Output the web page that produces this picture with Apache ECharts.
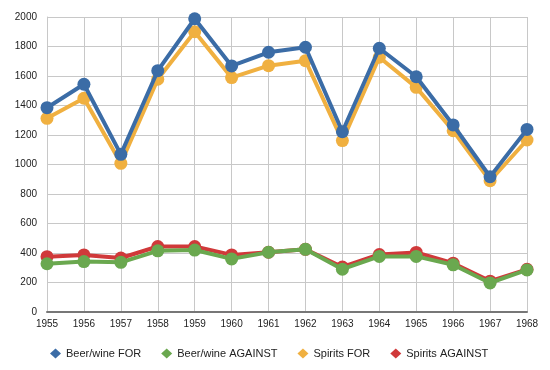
<!DOCTYPE html>
<html><head><meta charset="utf-8">
<script src="https://cdn.jsdelivr.net/npm/echarts@6/dist/echarts.min.js"></script>
<style>html,body{margin:0;padding:0;background:#fff}#c{width:550px;height:370px}</style>
</head><body><div id="c"></div>
<script>
const years = ['1955','1956','1957','1958','1959','1960','1961','1962','1963','1964','1965','1966','1967','1968'];
const beerFor = [1385,1544,1069,1636,1988,1668,1761,1795,1222,1788,1595,1268,917,1238];
const beerAgainst = [327,342,337,415,420,360,405,425,290,377,377,320,197,285];
const spiritsFor = [1313,1449,1008,1578,1900,1589,1670,1704,1162,1727,1523,1229,890,1166];
const spiritsAgainst = [375,387,366,444,444,387,405,425,305,390,404,331,209,289];
const yTicks = {min:0, max:2000, interval:200};

const chart = echarts.init(document.getElementById('c'));
function s(name, data, color, z){
  return {name, type:'line', data, z, symbol:'circle', symbolSize:13,
    lineStyle:{width:4, color}, itemStyle:{color}, emphasis:{disabled:true}};
}
chart.setOption({
  animation:false,
  textStyle:{fontFamily:'Liberation Sans, Arial, sans-serif'},
  grid:{left:47, right:23, top:17, bottom:58},
  legend:{bottom:6, left:45, itemGap:20, itemWidth:11, itemHeight:10, icon:'diamond',
    textStyle:{fontSize:11, color:'#222'},
    data:['Beer/wine FOR','Beer/wine AGAINST','Spirits FOR','Spirits AGAINST']},
  xAxis:{type:'category', data:years, boundaryGap:false,
    axisLine:{lineStyle:{color:'#777', width:2}}, axisTick:{show:false},
    axisLabel:{fontSize:10, color:'#222', margin:7},
    splitLine:{show:true, lineStyle:{color:'#c8c8c8', width:1}}},
  yAxis:{type:'value', min:yTicks.min, max:yTicks.max, interval:yTicks.interval,
    axisLine:{show:true, lineStyle:{color:'#c8c8c8'}}, axisTick:{show:false},
    axisLabel:{fontSize:10, color:'#222', margin:10, formatter:v=>String(v)},
    splitLine:{lineStyle:{color:'#c8c8c8', width:1}}},
  series:[
    s('Beer/wine FOR', beerFor, '#3b6ca6', 4),
    s('Beer/wine AGAINST', beerAgainst, '#6aa84f', 4),
    s('Spirits FOR', spiritsFor, '#f0b040', 3),
    s('Spirits AGAINST', spiritsAgainst, '#d0393a', 3)
  ]
});
</script></body></html>
